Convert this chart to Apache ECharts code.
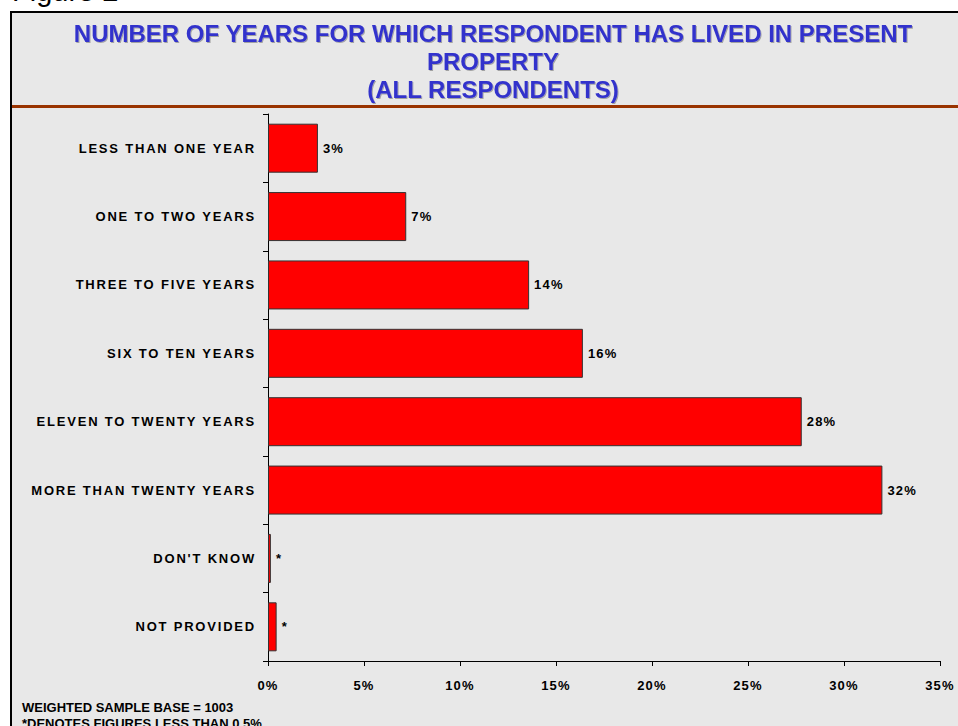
<!DOCTYPE html>
<html><head><meta charset="utf-8">
<script src="https://cdn.jsdelivr.net/npm/echarts@6/dist/echarts.min.js"></script>
<style>html,body{margin:0;padding:0;background:#fff;}#c{width:958px;height:726px;}</style>
</head><body><div id="c"></div>
<script>
const categories = ['LESS THAN ONE YEAR','ONE TO TWO YEARS','THREE TO FIVE YEARS','SIX TO TEN YEARS','ELEVEN TO TWENTY YEARS','MORE THAN TWENTY YEARS',"DON'T KNOW",'NOT PROVIDED'];
const values = [2.6, 7.2, 13.6, 16.4, 27.8, 32.0, 0.15, 0.45];
const valueLabels = ['3%','7%','14%','16%','28%','32%','*','*'];
const xTicks = [0,5,10,15,20,25,30,35];
const titleLines = ['NUMBER OF YEARS FOR WHICH RESPONDENT HAS LIVED IN PRESENT','PROPERTY','(ALL RESPONDENTS)'];
const footnotes = ['WEIGHTED SAMPLE BASE = 1003','*DENOTES FIGURES LESS THAN 0.5%'];
const figureLabel = 'Figure 2';

const chart = echarts.init(document.getElementById('c'), null, {renderer:'svg'});
chart.setOption({
  animation:false,
  backgroundColor:'#fff',
  graphic:[
    {type:'rect', shape:{x:11,y:12,width:980,height:760}, style:{fill:'#e8e8e8', stroke:'#000', lineWidth:2}, z:-10},
    {type:'rect', shape:{x:12,y:105,width:980,height:3}, style:{fill:'#993300'}, z:-5},
    {type:'text', x:12, y:-24, style:{text:figureLabel, font:'29px Arial', fill:'#000'}},
    {type:'text', x:493, y:19, style:{text:titleLines.join('\n'), font:'bold 24px Arial', fill:'#3333cc', align:'center', lineHeight:28, textShadowColor:'rgba(0,0,0,0.3)', textShadowOffsetX:1, textShadowOffsetY:1, textShadowBlur:1}},
    {type:'text', x:22, y:699, style:{text:footnotes.join('\n'), font:'bold 13px Arial', fill:'#000', lineHeight:16}}
  ],
  grid:{left:268, right:18, top:114, bottom:65},
  xAxis:{type:'value', min:xTicks[0], max:xTicks[xTicks.length-1], interval:5,
    axisLine:{show:true, lineStyle:{color:'#000'}},
    axisTick:{show:true, length:5, lineStyle:{color:'#000'}},
    splitLine:{show:false},
    axisLabel:{formatter:v=>v+'%', color:'#000', fontWeight:'bold', fontFamily:'Arial', fontSize:13, margin:18}
  },
  yAxis:{type:'category', data:categories, inverse:true,
    axisLine:{show:true, lineStyle:{color:'#000'}},
    axisTick:{show:true, length:5, lineStyle:{color:'#000'}},
    axisLabel:{color:'#000', fontWeight:'bold', fontFamily:'Arial', fontSize:13, margin:12}
  },
  series:[{type:'bar', data:values, barWidth:49,
    itemStyle:{color:'#ff0000', borderColor:'#333', borderWidth:1},
    label:{show:true, position:'right', distance:5, formatter:p=>valueLabels[p.dataIndex], color:'#000', fontWeight:'bold', fontFamily:'Arial', fontSize:13}
  }]
});
function spacing(){
  const skip = new Set([...titleLines, ...footnotes, figureLabel]);
  document.querySelectorAll('#c text').forEach(t=>{
    const s = t.textContent;
    if (skip.has(s)) return;
    if (categories.includes(s)) t.setAttribute('letter-spacing','1.8');
    else t.setAttribute('letter-spacing','1.2');
  });
}
spacing();
chart.on('finished', spacing);
</script></body></html>
